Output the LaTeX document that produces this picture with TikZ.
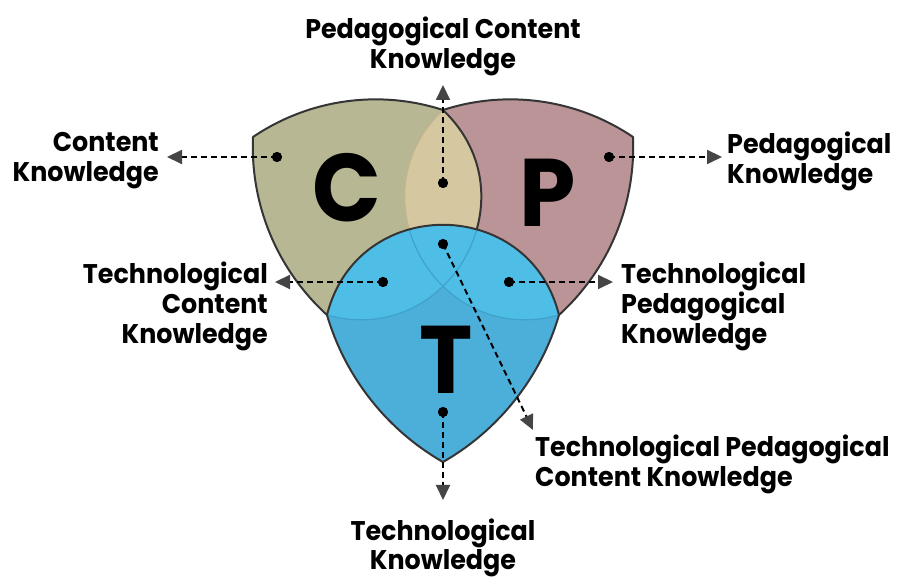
\documentclass[tikz,border=0pt]{standalone}
\usepackage{fontspec}
\setmainfont{Poppins}[FakeStretch=0.94]
\usetikzlibrary{arrows.meta}
\definecolor{colC}{HTML}{B8B793}
\definecolor{colP}{HTML}{BA9496}
\definecolor{colL}{HTML}{D5C8A0}
\definecolor{colT}{HTML}{4BAFDA}
\definecolor{colTO}{HTML}{4EBEE6}
\definecolor{edgecol}{HTML}{353535}
\definecolor{lensedge}{HTML}{C2B58E}
\definecolor{blueedge}{HTML}{3FA2CE}
\definecolor{arrowgray}{HTML}{454545}
\begin{document}
\begin{tikzpicture}[x=1pt,y=1pt,
  edge/.style={draw=edgecol,line width=2pt,line join=round},
  faintL/.style={draw=lensedge,line width=1.2pt},
  faintT/.style={draw=blueedge,line width=1.2pt},
  dot/.style={circle,fill=black,inner sep=0pt,minimum size=10pt},
  ptr/.style={draw=black,line width=2pt,dash pattern=on 6pt off 4pt,
    -{Triangle[length=15pt,width=14pt,fill=arrowgray,color=arrowgray]}},
  lbl/.style={font=\fontsize{27}{30}\selectfont\bfseries,inner sep=0pt,text=black},
  big/.style={font=\fontsize{96}{96}\selectfont\bfseries,inner sep=0pt,text=black}]
\useasboundingbox (0,0) rectangle (898,583);
\fill[white] (0,0) rectangle (898,583);
% corner points
\coordinate (cA) at (253,446);
\coordinate (cB) at (443,473);
\coordinate (cD) at (327,268);
\coordinate (cA2) at (633,446);
\coordinate (cD2) at (559,268);
\coordinate (cE) at (443,121);
\def\Cpath{(cA) to[bend left=26,looseness=0.9] (cB) to[bend left=76,looseness=1.37] (cD) to[bend left=25,looseness=0.9] (cA) -- cycle}
\def\Ppath{(cA2) to[bend right=26,looseness=0.9] (cB) to[bend right=76,looseness=1.37] (cD2) to[bend right=25,looseness=0.9] (cA2) -- cycle}
\def\Tpath{(cD) to[bend left=76,looseness=1.37] (cD2) to[bend left=22,looseness=0.88] (cE) to[bend left=22,looseness=0.88] (cD) -- cycle}
% P and C
\fill[colP] \Ppath;
\draw[edge] \Ppath;
\fill[colC] \Cpath;
\begin{scope}
  \clip \Cpath;
  \fill[colL] \Ppath;
  \draw[faintL] \Ppath;
\end{scope}
\draw[edge] \Cpath;
% T
\fill[colT] \Tpath;
\begin{scope}
  \clip \Tpath;
  \fill[colTO] \Cpath;
  \fill[colTO] \Ppath;
  \draw[faintT] \Cpath;
  \draw[faintT] \Ppath;
\end{scope}
\draw[edge] \Tpath;
% big letters
\node[big] (C) at (347,395) {C};
\node[big] (P) at (548,390) {P};
\node[big] (T) at (446,223) {T};
% dots
\node[dot] (dC) at (277,426) {};
\node[dot] (dPC) at (443,400) {};
\node[dot] (dP) at (609,426) {};
\node[dot] (dTCP) at (443,339) {};
\node[dot] (dTC) at (383,301) {};
\node[dot] (dTP) at (509,301) {};
\node[dot] (dT) at (443,171) {};
% arrow tips
\coordinate (tC) at (167,426);
\coordinate (tPC) at (443,498);
\coordinate (tP) at (722,426);
\coordinate (tTC) at (275,301);
\coordinate (tTP) at (613,301);
\coordinate (tTCP) at (533,153);
\coordinate (tT) at (443,83);
\draw[ptr] (dC.center) -- (tC);
\draw[ptr] (dPC.center) -- (tPC);
\draw[ptr] (dP.center) -- (tP);
\draw[ptr] (dTC.center) -- (tTC);
\draw[ptr] (dTP.center) -- (tTP);
\draw[ptr] (dTCP.center) -- (tTCP);
\draw[ptr] (dT.center) -- (tT);
\foreach \n in {dC,dPC,dP,dTCP,dTC,dTP,dT} \fill[black] (\n) circle (5pt);
% labels
\node[lbl,align=center,anchor=north] (lPC) at (443,566) {Pedagogical Content\\Knowledge};
\node[lbl,align=right,anchor=north east] (lC) at (159,451) {Content\\Knowledge};
\node[lbl,align=left,anchor=north west] (lP) at (727,451) {Pedagogical\\Knowledge};
\node[lbl,align=right,anchor=north east] (lTC) at (268,321) {Technological\\Content\\Knowledge};
\node[lbl,align=left,anchor=north west] (lTP) at (621,321) {Technological\\Pedagogical\\Knowledge};
\node[lbl,align=left,anchor=north west] (lTCP) at (535,148) {Technological Pedagogical\\Content Knowledge};
\node[lbl,align=center,anchor=north,font=\fontsize{27}{29}\selectfont\bfseries] (lT) at (443,64) {Technological\\Knowledge};
\end{tikzpicture}
\end{document}
